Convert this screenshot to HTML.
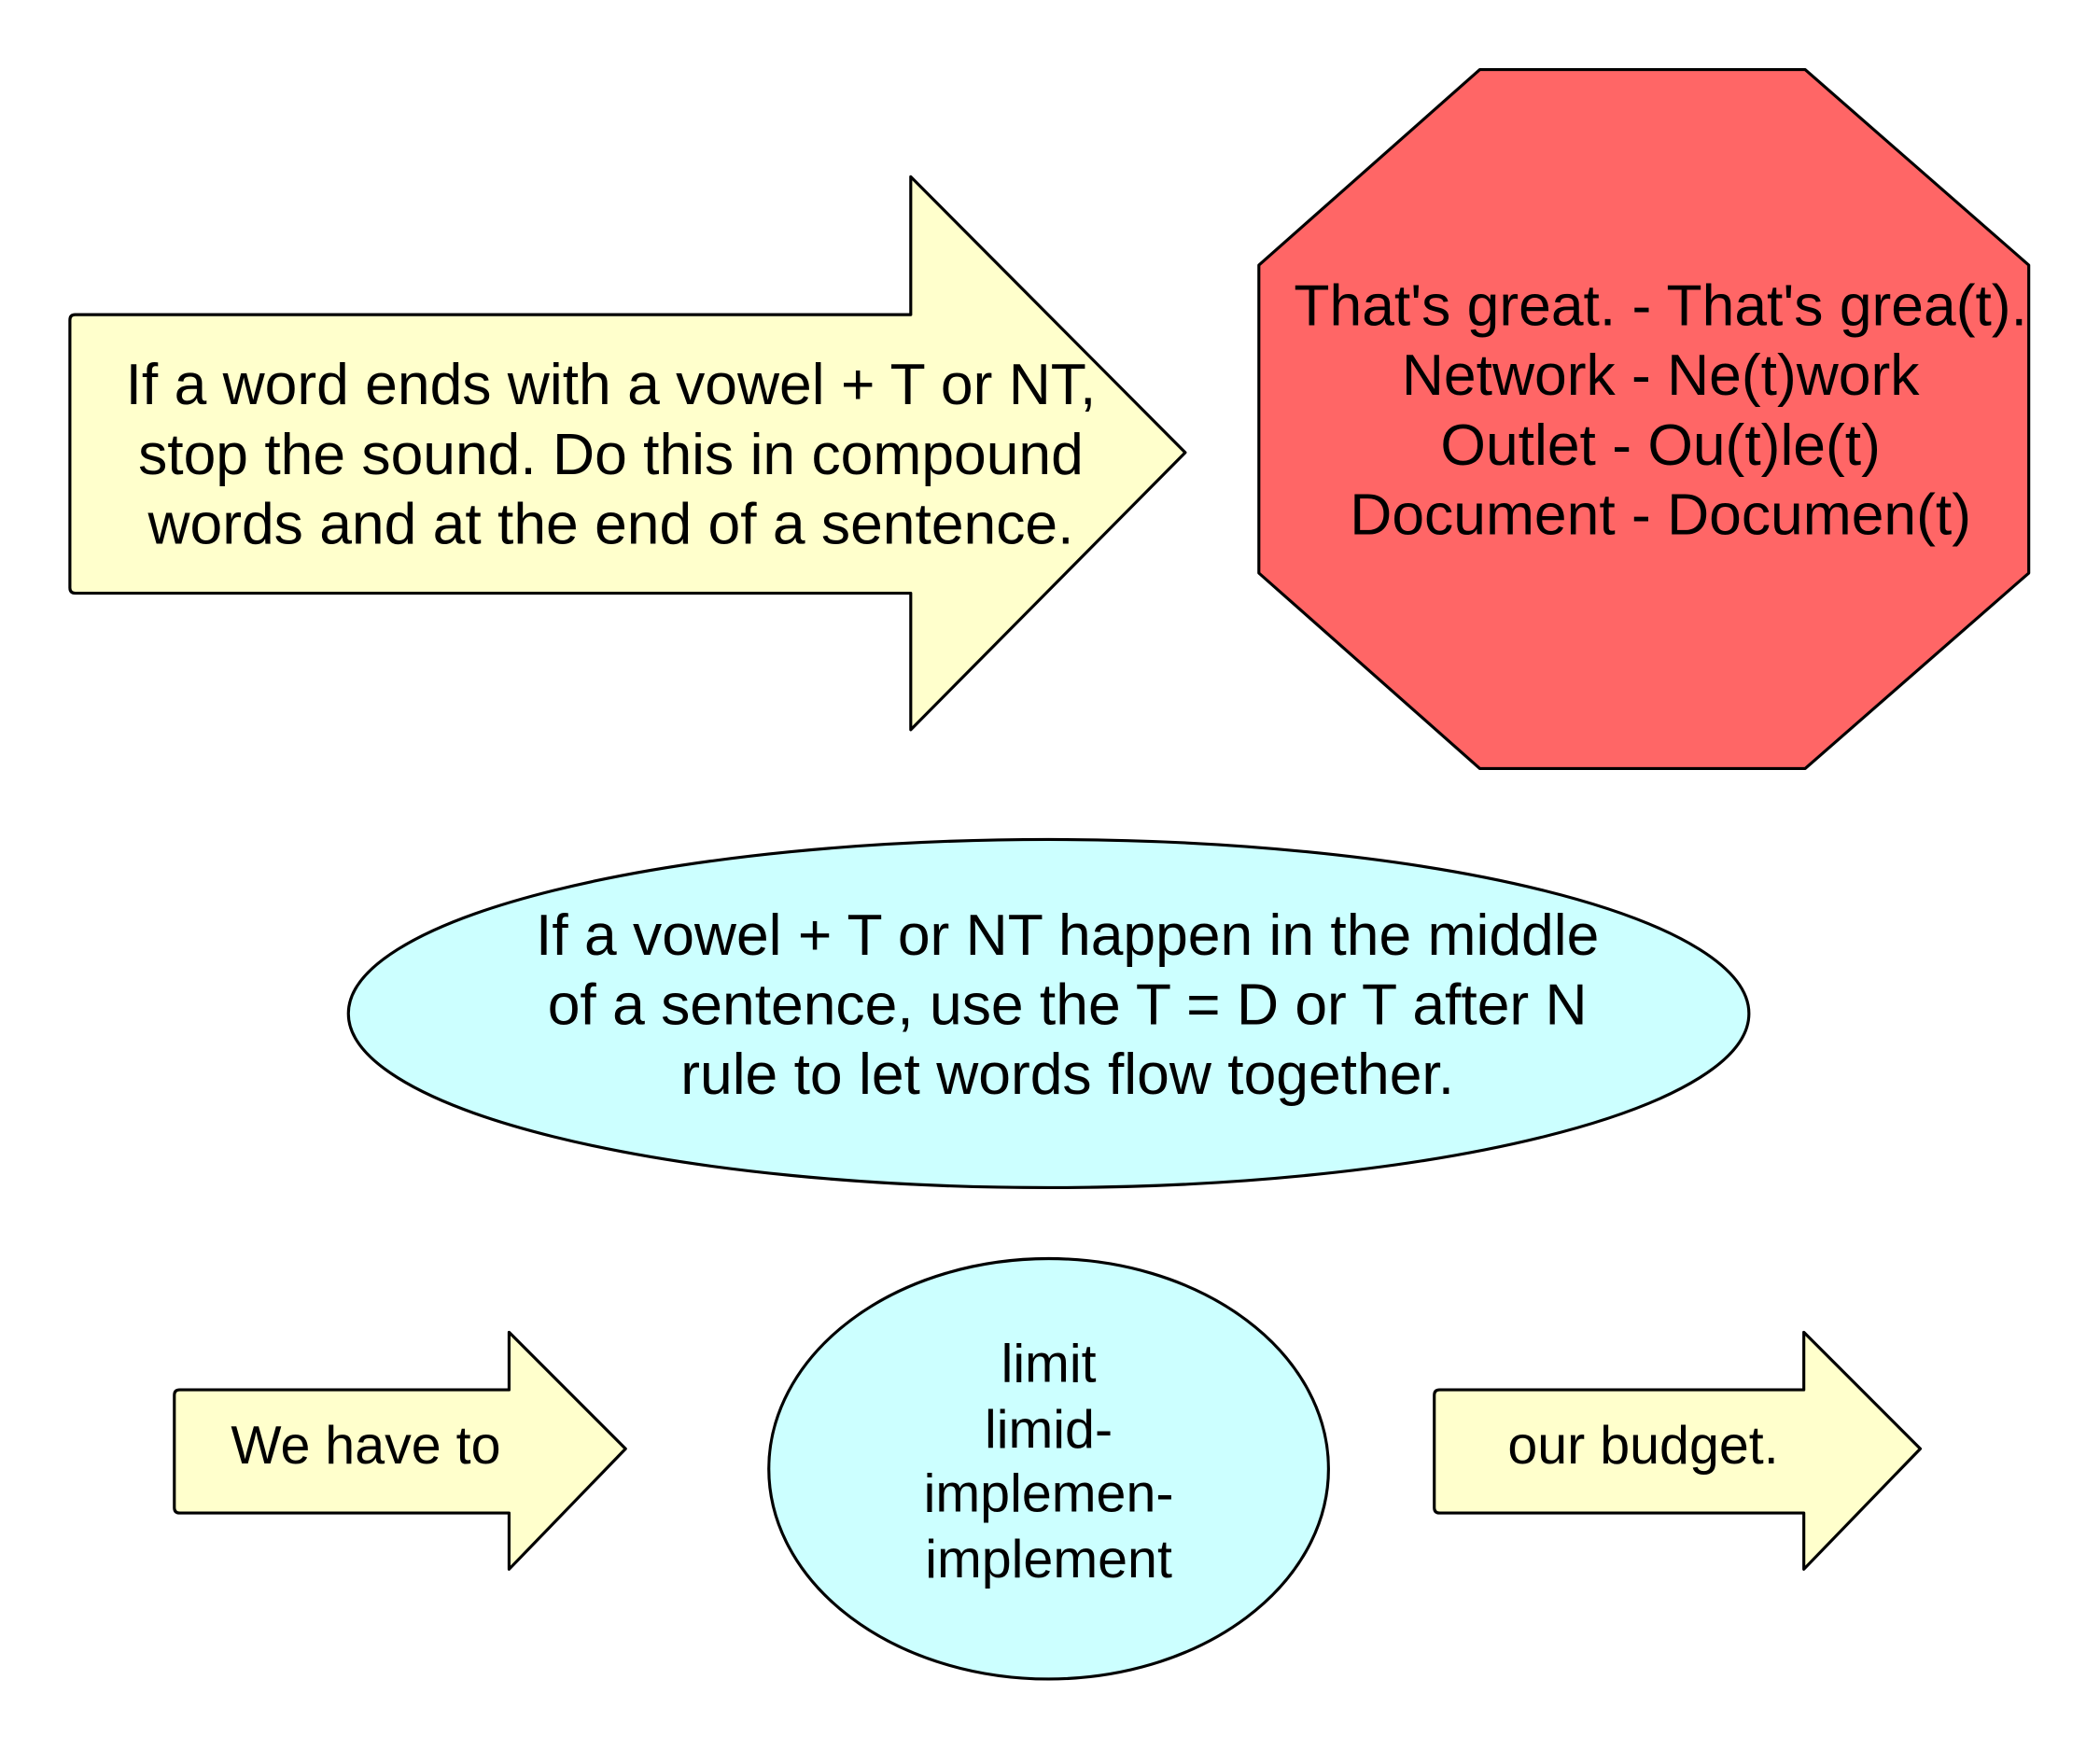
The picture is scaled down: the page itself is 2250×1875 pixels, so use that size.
<!DOCTYPE html>
<html><head><meta charset="utf-8"><style>
html,body{margin:0;padding:0;background:#fff;}
svg{display:block;}
text{font-family:"Liberation Sans",Arial,sans-serif;font-size:40px;fill:#000;text-anchor:middle;}
text.b{font-size:43.5px;}
</style></head><body>
<svg width="2250" height="1875" viewBox="0 0 1568 1307" xmlns="http://www.w3.org/2000/svg">
<rect width="1568" height="1307" fill="#fff"/>
<g stroke="#000" stroke-width="2.2" stroke-linejoin="round">
<path d="M56,235 L680,235 L680,132 L885,338 L680,545 L680,443 L56,443 Q52,443 52,439 L52,239 Q52,235 56,235 Z" fill="#ffffcc"/>
<path d="M1105,52 L1348,52 L1515,198 L1515,428 L1348,574 L1105,574 L940,428 L940,198 Z" fill="#ff6666"/>
<ellipse cx="783" cy="757" rx="523" ry="130" fill="#ccffff"/>
<path d="M134,1038 L380,1038 L380,995 L467,1082 L380,1172 L380,1130 L134,1130 Q130,1130 130,1126 L130,1042 Q130,1038 134,1038 Z" fill="#ffffcc"/>
<ellipse cx="783" cy="1097" rx="209" ry="157" fill="#ccffff"/>
<path d="M1075,1038 L1347,1038 L1347,995 L1434,1082 L1347,1172 L1347,1130 L1075,1130 Q1071,1130 1071,1126 L1071,1042 Q1071,1038 1075,1038 Z" fill="#ffffcc"/>
</g>
<text class="b" x="456" y="302">If a word ends with a vowel + T or NT,</text>
<text class="b" x="456" y="354">stop the sound. Do this in compound</text>
<text class="b" x="456" y="406">words and at the end of a sentence.</text>
<text class="b" x="1240" y="243">That's great. - That's grea(t).</text>
<text class="b" x="1240" y="295">Network - Ne(t)work</text>
<text class="b" x="1240" y="347">Outlet - Ou(t)le(t)</text>
<text class="b" x="1240" y="399">Document - Documen(t)</text>
<text class="b" x="797" y="713">If a vowel + T or NT happen in the middle</text>
<text class="b" x="797" y="765">of a sentence, use the T = D or T after N</text>
<text class="b" x="797" y="817">rule to let words flow together.</text>
<text x="273" y="1093">We have to</text>
<text x="783" y="1032">limit</text>
<text x="783" y="1081">limid-</text>
<text x="783" y="1129">implemen-</text>
<text x="783" y="1178">implement</text>
<text x="1227" y="1093">our budget.</text>
</svg>
</body></html>
